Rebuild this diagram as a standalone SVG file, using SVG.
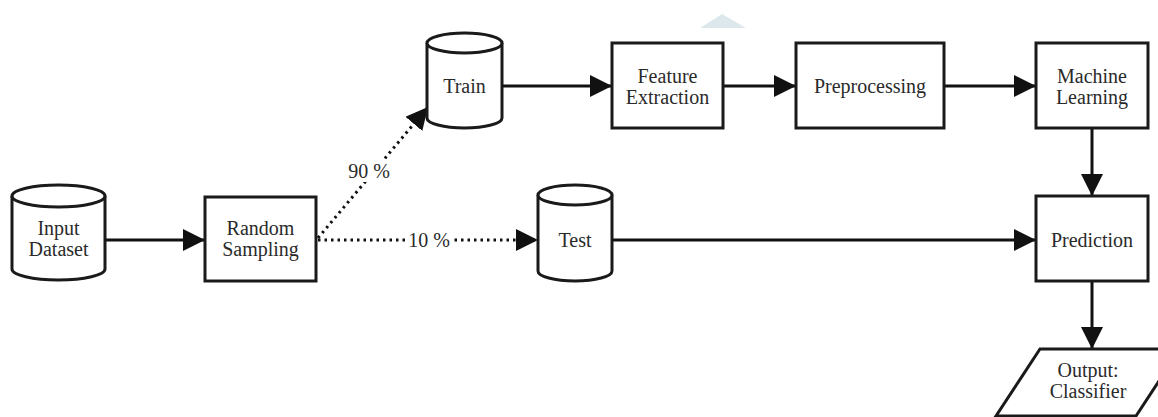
<svg xmlns="http://www.w3.org/2000/svg" width="1158" height="417" viewBox="0 0 1158 417">
  <style>
    .shape { fill: #ffffff; stroke: #1a1a1a; stroke-width: 3; }
    .label { font-family: "Liberation Serif", "Times New Roman", serif; font-size: 20px; fill: #2a2a2a; text-anchor: middle; }
    .edge { fill: none; stroke: #111111; stroke-width: 3; }
    .dotted { fill: none; stroke: #111111; stroke-width: 3; stroke-dasharray: 2.5 4; }
    .knockout { fill: #ffffff; }
  </style>
  <defs>
    <marker id="arrow" viewBox="0 0 22 22" refX="22" refY="11" markerWidth="22" markerHeight="22" markerUnits="userSpaceOnUse" orient="auto">
      <path d="M0,0 L22,11 L0,22 Z" fill="#111111"/>
    </marker>
  </defs>

  <rect width="1158" height="417" fill="#ffffff"/>
  <polygon points="700,28 722,14 746,28" fill="#dce8eb"/>

  <!-- connectors -->
  <g id="connectors">
    <line class="edge" x1="105" y1="240" x2="205" y2="240" marker-end="url(#arrow)"/>
    <line class="dotted" x1="318" y1="238" x2="428" y2="107" marker-end="url(#arrow)"/>
    <line class="dotted" x1="318" y1="240" x2="538" y2="240" marker-end="url(#arrow)"/>
    <line class="edge" x1="502" y1="86" x2="612" y2="86" marker-end="url(#arrow)"/>
    <line class="edge" x1="723" y1="86" x2="796" y2="86" marker-end="url(#arrow)"/>
    <line class="edge" x1="944" y1="86" x2="1036" y2="86" marker-end="url(#arrow)"/>
    <line class="edge" x1="1092" y1="128" x2="1092" y2="196" marker-end="url(#arrow)"/>
    <line class="edge" x1="612" y1="240" x2="1036" y2="240" marker-end="url(#arrow)"/>
    <line class="edge" x1="1092" y1="281" x2="1092" y2="349" marker-end="url(#arrow)"/>
    <rect class="knockout" x="345" y="160" width="48" height="22"/>
    <text class="label" x="369" y="178">90 %</text>
    <rect class="knockout" x="405" y="229" width="48" height="22"/>
    <text class="label" x="429" y="247">10 %</text>
  </g>

  <!-- data stores -->
  <g id="input-dataset">
    <path class="shape" d="M12,196 A46.5,11 0 0 1 105,196 L105,269 A46.5,11 0 0 1 12,269 Z"/>
    <path class="shape" fill="none" d="M12,196 A46.5,11 0 0 0 105,196"/>
    <text class="label" x="58.5" y="235">Input</text>
    <text class="label" x="58.5" y="256">Dataset</text>
  </g>

  <g id="train">
    <path class="shape" d="M427,43 A37.5,10 0 0 1 502,43 L502,118 A37.5,10 0 0 1 427,118 Z"/>
    <path class="shape" fill="none" d="M427,43 A37.5,10 0 0 0 502,43"/>
    <text class="label" x="464.5" y="93">Train</text>
  </g>

  <g id="test">
    <path class="shape" d="M538,195 A37,10 0 0 1 612,195 L612,271 A37,10 0 0 1 538,271 Z"/>
    <path class="shape" fill="none" d="M538,195 A37,10 0 0 0 612,195"/>
    <text class="label" x="575" y="247">Test</text>
  </g>

  <!-- process steps -->
  <g id="random-sampling">
    <rect class="shape" x="205" y="197" width="111" height="84"/>
    <text class="label" x="260.5" y="235">Random</text>
    <text class="label" x="260.5" y="256">Sampling</text>
  </g>

  <g id="feature-extraction">
    <rect class="shape" x="612" y="43" width="111" height="85"/>
    <text class="label" x="667.5" y="83">Feature</text>
    <text class="label" x="667.5" y="104">Extraction</text>
  </g>

  <g id="preprocessing">
    <rect class="shape" x="796" y="43" width="148" height="85"/>
    <text class="label" x="870" y="93">Preprocessing</text>
  </g>

  <g id="machine-learning">
    <rect class="shape" x="1036" y="43" width="112" height="85"/>
    <text class="label" x="1092" y="83">Machine</text>
    <text class="label" x="1092" y="104">Learning</text>
  </g>

  <g id="prediction">
    <rect class="shape" x="1036" y="196" width="112" height="85"/>
    <text class="label" x="1092" y="247">Prediction</text>
  </g>

  <g id="output-classifier">
    <polygon class="shape" points="1040,349 1180,349 1136,416 996,416"/>
    <text class="label" x="1088" y="377">Output:</text>
    <text class="label" x="1088" y="398">Classifier</text>
  </g>
</svg>
